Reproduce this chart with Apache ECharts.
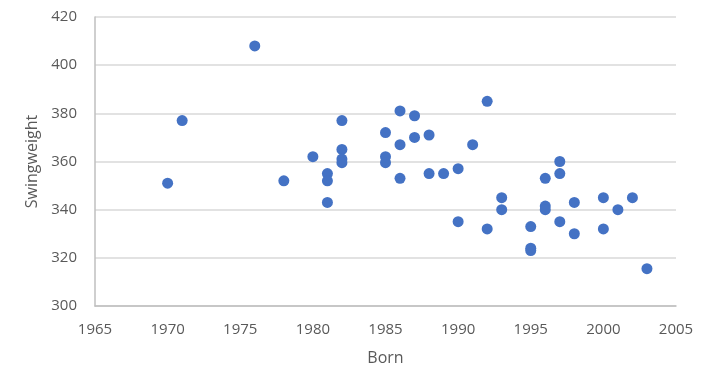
<!DOCTYPE html>
<html><head><meta charset="utf-8">
<script src="https://cdn.jsdelivr.net/npm/echarts@6/dist/echarts.min.js"></script>
<style>html,body{margin:0;padding:0;background:#fff}#c{width:708px;height:388px}</style>
</head><body><div id="c"></div>
<script>
const born = [1970,1971,1976,1978,1980,1981,1981,1981,1982,1982,1982,1982,1985,1985,1985,1986,1986,1986,1987,1987,1988,1988,1989,1990,1990,1991,1992,1992,1993,1993,1995,1995,1995,1996,1996,1996,1997,1997,1997,1998,1998,2000,2000,2001,2002,2003];
const swingweight = [351,377,408,352,362,355,352,343,377,365,361,359.5,372,362,359.5,381,367,353,379,370,371,355,355,357,335,367,385,332,345,340,333,324,323,353,341.5,340,360,355,335,343,330,345,332,340,345,315.5];
const chart = echarts.init(document.getElementById('c'));
const font = 'Open Sans, Noto Sans, sans-serif';
chart.setOption({
  animation:false,
  grid:{left:95,right:32,top:17,bottom:82},
  xAxis:{type:'value',min:1965,max:2005,interval:5,name:'Born',nameLocation:'middle',nameGap:44,
    nameTextStyle:{color:'#595959',fontSize:16,fontFamily:font},
    axisLine:{show:true,lineStyle:{color:'#bfbfbf',width:1.5}},axisTick:{show:false},
    splitLine:{show:false},
    axisLabel:{color:'#595959',fontSize:15,fontFamily:font,margin:16,formatter:v=>String(v)}},
  yAxis:{type:'value',min:300,max:420,interval:20,name:'Swingweight',nameLocation:'middle',nameGap:52,
    nameTextStyle:{color:'#595959',fontSize:16,fontFamily:font},
    axisLine:{show:true,lineStyle:{color:'#bfbfbf',width:1.5}},axisTick:{show:false},
    splitLine:{lineStyle:{color:'#d9d9d9',width:1.5}},
    axisLabel:{color:'#595959',fontSize:15,fontFamily:font,margin:18}},
  series:[{type:'scatter',symbolSize:11,itemStyle:{color:'#4472c4',opacity:1},
    data:born.map((b,i)=>[b,swingweight[i]])}]
});
</script></body></html>
